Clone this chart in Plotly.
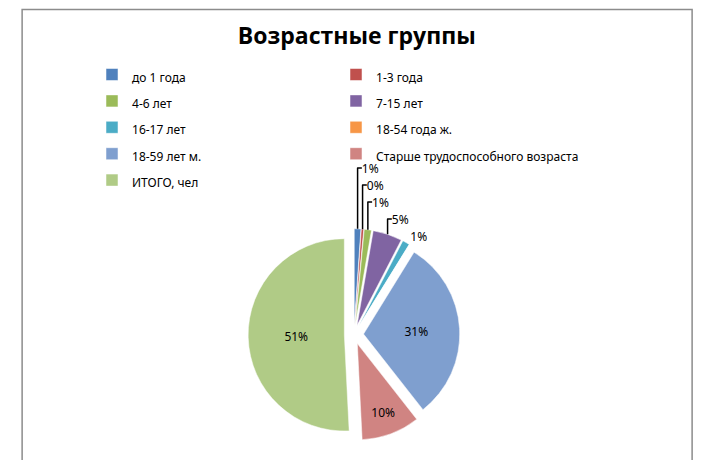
import plotly.graph_objects as go

groups = ["до 1 года", "1-3 года", "4-6 лет", "7-15 лет", "16-17 лет",
          "18-54 года ж.", "18-59 лет м.", "Старше трудоспособного возраста",
          "ИТОГО, чел"]
shares = [1.1, 0.4, 1.2, 4.9, 1.2, 0, 30.6, 9.8, 50.8]
colors = ["#4F81BD", "#C0504D", "#9BBB59", "#8064A2", "#4BACC6",
          "#F79646", "#7F9FCF", "#D08482", "#B0CB86"]

# the empty group gets no percent label
templates = ["%{percent:.0%}" if v > 0 else "" for v in shares]
# smaller legend text inside a taller legend row
legend_names = ["<span style='font-size:12px'>%s</span>" % g for g in groups]

fig = go.Figure(go.Pie(
    labels=legend_names,
    values=shares,
    sort=False,
    direction="clockwise",
    rotation=0,
    marker=dict(colors=colors, line=dict(color="white", width=0.5)),
    pull=[0.1] * len(groups),
    texttemplate=templates,
    textposition=["outside"] * 6 + ["inside"] * 3,
    textfont=dict(family="Noto Sans", size=12, color="black"),
    insidetextorientation="horizontal",
    showlegend=True,
    hovertemplate="%{customdata}: %{percent}<extra></extra>",
    customdata=groups,
    domain=dict(x=[0.14, 0.84], y=[0.06, 0.52]),
))

fig.update_layout(
    width=706, height=460,
    margin=dict(l=0, r=0, t=0, b=0, autoexpand=False),
    paper_bgcolor="white",
    title=dict(text="<b>Возрастные группы</b>", x=0.494, xanchor="center",
               y=0.94, yanchor="middle",
               font=dict(family="Open Sans", size=23, color="black")),
    legend=dict(orientation="h", x=0.119, y=0.895, xanchor="left", yanchor="top",
                entrywidth=199, entrywidthmode="pixels",
                bgcolor="rgba(0,0,0,0)",
                font=dict(family="Noto Sans", size=18, color="black"),
                traceorder="normal"),
    shapes=[dict(type="rect", xref="paper", yref="paper",
                 x0=0.02, x1=0.969, y0=-0.05, y1=0.997,
                 line=dict(color="#8c8c8c", width=1.5))],
)

fig.write_html("out.html")
